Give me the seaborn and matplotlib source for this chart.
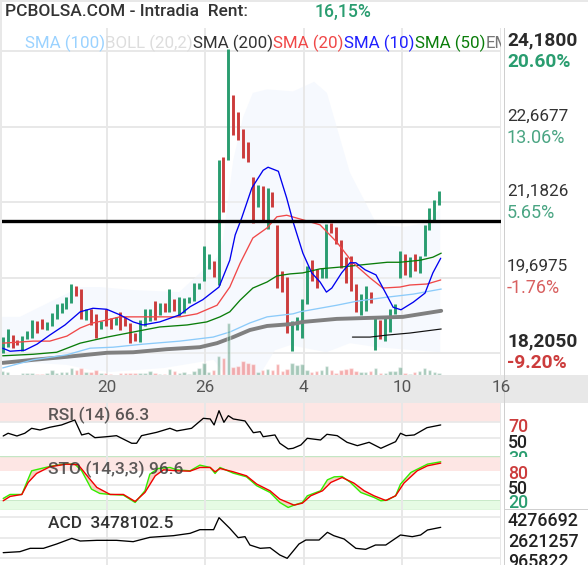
import numpy as np
import matplotlib
matplotlib.use('Agg')
import matplotlib.pyplot as plt
from matplotlib.patches import Rectangle
from matplotlib.transforms import Bbox
import seaborn as sns

W, H = 588, 565

# candles, index 0..89
high = [18.52,18.68,18.56,18.46,18.54,18.64,18.86,18.84,18.88,18.82,19.00,19.17,19.19,19.31,19.57,
        19.53,19.47,19.08,19.08,18.98,18.84,19.08,18.90,18.92,19.02,18.92,18.80,18.60,18.86,19.08,
        19.08,19.23,19.19,19.19,19.47,19.27,19.31,19.29,19.31,19.59,19.59,20.32,20.16,20.02,22.02,
        22.08,24.22,23.31,22.97,22.64,22.38,21.69,21.53,21.51,21.47,21.39,20.74,19.83,19.71,18.84,
        18.92,19.27,19.93,20.05,19.87,19.89,20.76,20.78,20.70,20.44,20.10,20.12,19.57,19.37,19.53,
        19.41,18.94,18.86,18.90,19.08,19.17,20.22,20.16,20.10,20.16,20.12,20.74,21.07,21.23,21.41]
low = [18.20,18.32,18.30,18.36,18.24,18.48,18.50,18.60,18.68,18.66,18.74,18.88,19.00,19.08,19.19,
       19.33,18.88,18.86,18.76,18.50,18.68,18.74,18.68,18.76,18.66,18.74,18.40,18.44,18.42,18.74,
       18.84,18.86,18.96,19.02,19.02,19.04,18.94,19.00,19.19,19.23,19.47,19.63,19.87,19.71,19.55,
       20.99,22.02,22.52,22.42,22.06,21.98,20.78,21.09,20.80,20.66,21.09,19.49,19.41,18.60,18.24,
       18.66,18.50,19.17,19.63,19.49,19.69,19.69,20.58,20.36,19.89,19.59,19.43,19.02,18.96,19.04,
       19.19,18.26,18.48,18.44,18.62,18.98,19.69,19.75,19.71,19.83,19.79,20.12,20.64,20.84,21.13]
up = [1,1,0,0,1,1,1,0,0,1,1,1,1,1,1,0,0,1,0,0,1,0,0,1,0,0,0,0,1,1,
      1,0,1,0,1,0,1,1,1,1,1,1,1,0,1,0,1,0,0,0,0,0,1,0,1,0,0,0,0,1,
      1,1,1,0,0,1,1,0,0,0,0,0,0,1,1,0,1,0,1,1,1,1,0,1,0,1,1,1,1,1]
volume = [4,3,0,0.5,2,2,2,1,1,2,5,2,3,3,7,5,7,3,3,5,2,2,1,0.5,2,2,2,2,2,2,
          4,2,1,1,6,4,2,3,1,4,7,12,3,5,19,17,52,8,9,14,12,11,3,5,6,5,11,4,6,12,
          10,11,5,3,4,5,9,5,2,5,6,7,4,3,3,4,7,2,2,4,4,8,2,1,3,4,7,5,3,2]

sma10_x = [0,1.5,4.5,7,9.6,12.7,15.8,18.4,21.2,23.9,26.6,28.6,32,36.1,38.2,40.8,44.1,46.3,47.4,48.7,50.8,53.1,54.1,56.2,57.9,59.2,61.2,63,64.7,66,67.1,69.1,70.8,72,73.9,76.1,78.3,79.6,81.2,83.7,86.1,87.7,89.3]
sma10_y = [18.30,18.24,18.26,18.38,18.56,18.76,19.02,19.09,19.07,18.96,18.82,18.76,18.82,18.96,19.12,19.26,19.51,20.04,20.54,20.87,21.47,21.82,21.88,21.80,21.27,20.80,20.18,19.79,19.61,19.41,19.49,19.79,19.99,19.99,19.85,19.75,19.35,19.11,19.06,19.21,19.39,19.79,20.08]
sma20_x = [0,6.2,9.6,13.1,15.8,18.4,21.3,23.9,28.6,36.1,39.6,43.7,46.3,48.4,51,53.9,55.9,57.9,61.2,64.7,68.1,71.4,74.9,77.5,81,83,86.5,89.3]
sma20_y = [18.40,18.44,18.44,18.54,18.70,18.80,18.86,18.92,18.92,18.92,18.98,19.15,19.51,19.98,20.48,20.68,20.90,20.93,20.84,20.74,20.40,19.99,19.69,19.49,19.51,19.55,19.57,19.65]
sma50_x = [0,6.2,11,15.8,21.3,26.6,32,37.6,41.6,44.3,46.3,48.4,51,53.9,55.9,58.6,61.2,64.7,69.4,74.3,78.4,81,85.1,87.7,89.4]
sma50_y = [18.15,18.18,18.22,18.40,18.52,18.62,18.72,18.76,18.82,18.92,19.02,19.25,19.49,19.61,19.73,19.77,19.79,19.87,19.91,19.96,20.00,20.00,20.04,20.10,20.18]
sma100_x = [0,6.2,13.1,17.8,22.5,28.6,36.1,42.9,46.3,50.4,53.9,59.2,60.6,68.1,72.2,78.4,83.7,89.4]
sma100_y = [17.91,18.07,18.17,18.30,18.32,18.38,18.44,18.52,18.62,18.80,18.92,18.98,19.02,19.15,19.23,19.31,19.37,19.47]
sma200_x = [0,6.2,13.1,21.3,26.6,33.4,40.2,43.7,47,50.4,53.9,59.2,61.2,68.1,74.9,81.6,89.4]
sma200_y = [18.01,18.07,18.13,18.21,18.22,18.28,18.32,18.40,18.52,18.66,18.74,18.78,18.82,18.88,18.90,18.92,19.04]
ema_x = [71.3,74.9,78.4,83,89.4]
ema_y = [18.52,18.52,18.56,18.60,18.68]

boll_up_x = [-0.5,3.5,15.8,19.8,26.6,36,43.7,44.9,47,49,51,53.9,59.2,63.5,66.1,70.8,73.7,76.3,81.8,86.5,89.2]
boll_up_y = [18.92,18.92,19.51,19.51,19.45,19.41,20.10,20.44,22.02,22.87,23.35,23.42,23.38,23.57,23.35,21.77,21.23,20.74,20.70,20.78,21.07]
boll_lo_x = [-0.5,6.2,13.1,17.8,22,33,43,45.4,52.4,55.5,58.6,66,70.8,76.3,89.2]
boll_lo_y = [17.97,18.01,17.97,17.87,17.83,17.91,18.07,17.77,17.77,18.26,18.36,18.22,18.40,18.32,18.22]

support = 20.816
price_grid = [24.18, 22.6677, 21.1826, 19.6975, 18.205]
day_pos = [21.2, 41.3, 61.4, 81.4, 101.56]
day_labels = ['20', '26', '4', '10', '16']

rsi_x = [0.1,1.1,2.9,4.5,5.9,7.6,9.6,12,14.7,16.1,17.5,18.8,21.2,23.2,26.3,27.3,28.3,31.4,34.1,35.5,38.5,40.9,42.3,43.1,44.1,45.1,46,47,49.4,51.1,52.5,53.1,55.5,56.5,58.2,59.2,60.8,62.1,64.8,66.1,68.2,70.2,72.3,74.7,77.1,80.1,81.1,82.2,83.9,86.5,89.3]
rsi_y = [52.5,55.9,52.5,55.9,62.1,60,63.4,66.3,72.5,53.8,55.9,50.4,51.6,52.9,43.4,43.4,52.9,57.1,62.1,58.8,62.1,74.6,73.8,66.3,84.1,69.6,77.9,73.8,71.3,56.6,57.9,51.6,53.8,43.4,36.3,37.1,41.3,49.6,47.5,54.6,52.9,44.6,40.4,44.6,37.1,45.4,55.9,52.9,53.8,62.9,66.3]

sto_d_x = [0.1,1.5,3.9,5.2,6.9,9.6,13,15.4,17.5,19.2,21.9,24.6,27,29,31.1,32.8,35.5,38.2,40.2,42.3,43.3,44.3,47,49.7,51.8,54.5,56.5,59.4,61.1,62.8,65.2,66.9,69.2,71.6,73.7,75.7,78.1,80.1,81.8,84.5,86.6,89.3]
sto_d_y = [17.9,27,31.2,56.4,75.2,89.2,94.8,93.4,66.8,45.9,31.2,31.2,16.5,35.4,70.3,82.9,80.8,80.1,87.8,87.8,78.7,85.7,78.7,70.3,52.9,38.9,21.4,8.8,13,28.4,38.9,56.4,66.8,55,38.9,28.4,18.6,28.4,55,80.8,91.3,96.9]
sto_k_x = [0.1,1.5,3.9,4.9,5.9,7.3,9.6,12.4,14.7,16.1,18.1,19.8,21.9,24.6,27,29,30,31.7,34.1,35.5,38.2,40.2,42.3,43.3,44.3,47,49.7,51.8,54.5,56.5,58.2,59.4,61.1,62.1,64.8,66.2,67.6,69.2,70.9,73,75.7,77.1,78.4,80.1,81.1,83.2,86.6,89.3]
sto_k_y = [22.8,31.2,31.2,56.4,80.8,84.3,89.9,94.8,94.8,80.8,42.4,33.3,31.2,29.8,14.4,38.9,73.8,85.7,87.8,82.9,80.8,92.7,87.8,75.2,87.8,75.9,68.2,49.4,35.4,14.4,3.9,8.8,14.4,28.4,38.9,61.9,68.2,68.9,56.4,35.4,24.9,17.9,19.3,28.4,52.9,77.3,94.8,99.7]

acd_x = [0.1,3.5,5.6,8.3,11,14.1,15.8,19.2,23.2,26.6,30,34.8,38.2,40.2,43,44.1,46.3,48,49.4,50.4,52.5,54.5,56.5,58,59.4,60.4,61.8,64.5,66.2,67.5,69.6,72,74,76,78.1,81.1,83.5,85.2,86.6,89.3]
acd_y = [1.413,1.493,1.763,1.763,2.112,2.570,2.354,2.408,2.408,2.301,2.650,2.785,2.974,3.270,3.270,4.239,3.377,2.624,2.704,2.031,1.763,1.816,1.224,0.955,1.628,2.112,2.435,2.435,3.055,2.785,2.516,1.763,1.682,2.031,2.031,2.839,2.704,2.839,3.243,3.458]
acd_grid = [4.276692, 2.621257, 0.965822]

sns.set_theme(style='white')
plt.rcParams['font.family'] = ['Roboto', 'DejaVu Sans']

GRID = '#e8e8e8'
GREEN = '#2a9d70'
RED = '#cc3c3c'
XMIN, XMAX = -0.55, 101.59

fig = plt.figure(figsize=(W / 100, H / 100), dpi=100, facecolor='white')


def panel(x0, y0, x1, y1):
    # axes placed in picture pixels, y counted from the top
    a = fig.add_axes([x0 / W, 1 - y1 / H, (x1 - x0) / W, (y1 - y0) / H])
    a.set_xlim(XMIN, XMAX)
    for s in a.spines.values():
        s.set_visible(False)
    a.set_xticks([])
    a.set_yticks([])
    a.set_xlabel('')
    a.set_ylabel('')
    return a


def label(x, y, s, clip=None, **kw):
    t = fig.text(x / W, 1 - y / H, s, va='center', **kw)
    if clip is not None:
        t.set_clip_box(Bbox.from_extents(clip[0], H - clip[3], clip[2], H - clip[1]))
        t.set_clip_on(True)
    return t


def line(a, xs, ys, color, width, z=3):
    sns.lineplot(x=xs, y=ys, ax=a, color=color, linewidth=width, estimator=None, sort=False,
                 legend=False, zorder=z)
    a.set_xlabel('')
    a.set_ylabel('')


def vgrid(a):
    for p in day_pos:
        a.axvline(p, color=GRID, lw=1.4, zorder=1.5)


# main price panel
ax = panel(0, 28, 501, 375)
ax.set_ylim(17.77, 24.634)
for p in price_grid:
    ax.axhline(p, color=GRID, lw=1.4, zorder=0.5)
vgrid(ax)
ax.fill(boll_up_x + boll_lo_x[::-1], boll_up_y + boll_lo_y[::-1], color='#f6f9fe', lw=0, zorder=1)
for p in price_grid:
    ax.axhline(p, color=GRID, lw=1.4, alpha=0.7, zorder=1.2)

idx = np.arange(len(high))
candle_colors = [GREEN if u else RED for u in up]
ax.vlines(idx, low, high, colors=candle_colors, lw=2.1, zorder=2)

line(ax, sma200_x, sma200_y, '#808080', 2.8)
line(ax, sma100_x, sma100_y, '#8ccbfa', 0.95)
line(ax, sma50_x, sma50_y, '#0a7d0a', 0.95)
line(ax, sma20_x, sma20_y, '#f04848', 0.95)
line(ax, sma10_x, sma10_y, '#0000f0', 0.95)
line(ax, ema_x, ema_y, '#111111', 0.85)
ax.axhline(support, color='black', lw=2.4, zorder=4)
ax.set_xlim(XMIN, XMAX)
ax.set_ylim(17.77, 24.634)

# volume on its own scale along the bottom of the price panel
vax = panel(0, 28, 501, 375)
vax.patch.set_visible(False)
sns.barplot(x=idx, y=volume, hue=['up' if u else 'down' for u in up],
            palette={'up': '#2a7d5a', 'down': '#e83c3c'}, alpha=0.42, width=0.72, saturation=1,
            native_scale=True, dodge=False, legend=False, ax=vax)
vax.set_xlim(XMIN, XMAX)
vax.set_ylim(0, 347)
vax.set_xticks([])
vax.set_yticks([])
vax.set_xlabel('')
vax.set_ylabel('')

# RSI
rax = panel(0, 403, 501, 455.5)
rax.set_ylim(28.1, 93.75)
rax.axhspan(70, 93.75, color='#fde6e4', lw=0, zorder=1)
for v in [70, 50]:
    rax.axhline(v, color=GRID, lw=1.2, zorder=1.2)
vgrid(rax)
line(rax, rsi_x, rsi_y, 'black', 0.95)
rax.set_xlim(XMIN, XMAX)
rax.set_ylim(28.1, 93.75)

# stochastic
sax = panel(0, 455.5, 501, 510)
sax.set_ylim(-1.4, 112.9)
sax.axhspan(80, 110, color='#fde6e4', lw=0, zorder=1)
sax.axhspan(-1, 20, color='#e6fbe4', lw=0, zorder=1)
sax.axhline(50, color=GRID, lw=1.2, zorder=1.2)
sax.axhline(112.3, color='#c4e6c4', lw=1.0, zorder=1.2)
sax.axhline(-1, color='#c4e6c4', lw=1.0, zorder=1.2)
sax.axhline(20, color='#c4e6c4', lw=0.6, zorder=1.2)
vgrid(sax)
sax.fill(sto_k_x + sto_d_x[::-1], sto_k_y + sto_d_y[::-1], color='#f6d2c4', lw=0, zorder=2)
line(sax, sto_k_x, sto_k_y, '#33ee00', 1.0)
line(sax, sto_d_x, sto_d_y, '#f00000', 1.0, z=4)
sax.set_xlim(XMIN, XMAX)
sax.set_ylim(-1.4, 112.9)

# ACD
dax = panel(0, 510, 501, 565)
dax.set_ylim(0.4168, 4.858)
for v in acd_grid:
    dax.axhline(v, color=GRID, lw=1.2, zorder=1.2)
vgrid(dax)
line(dax, acd_x, acd_y, 'black', 0.95)
dax.set_xlim(XMIN, XMAX)
dax.set_ylim(0.4168, 4.858)

# frame bands and separators
band = dict(transform=fig.transFigure, color=GRID, lw=0, zorder=5)
fig.add_artist(Rectangle((0, 1 - 2 / H), 1, 2 / H, **band))
fig.add_artist(Rectangle((0, 1 - 375 / H), 2 / W, 375 / H, **band))
fig.add_artist(Rectangle((0, 1 - 403 / H), 1, 28 / H, **band))
fig.add_artist(Rectangle((503.5 / W, 0), 1.6 / W, 1 - 28 / H, transform=fig.transFigure,
                         color='#cfcfcf', lw=0, zorder=5))
fig.add_artist(Rectangle((504 / W, 1 - 510 / H), 84 / W, 1 / H, transform=fig.transFigure,
                         color='#cfcfcf', lw=0, zorder=5))

# header
label(5, 12, 'PCBOLSA.COM - Intradia  Rent:', fontsize=12.5, weight=500, color='#333333', zorder=6)
label(315, 12, '16,15%', fontsize=12.7, weight=500, color=GREEN, zorder=6)

# indicator names over the price panel
for x, s, c in [(25, 'SMA (100)', '#9ad2ff'), (105, 'BOLL (20,2)', '#dddddd'), (193, 'SMA (200)', '#333333'),
                (273, 'SMA (20)', '#f04848'), (344, 'SMA (10)', '#2020ff'), (415, 'SMA (50)', '#0a7d0a'),
                (486, 'EM', '#777777')]:
    label(x, 43, s, fontsize=12.2, color=c, zorder=6, clip=(0, 28, 501, 60))

# price scale
for y, s, c, w, fs in [(40, '24,1800', '#2a2a2a', 'bold', 13.8), (62, '20.60%', GREEN, 'bold', 13.8),
                       (116, '22,6677', '#333333', 'normal', 12.3), (138, '13.06%', '#4aa583', 'normal', 13),
                       (191, '21,1826', '#333333', 'normal', 12.3), (213, '5.65%', '#4aa583', 'normal', 13),
                       (266, '19,6975', '#333333', 'normal', 12.3), (288, '-1.76%', '#d86060', 'normal', 13),
                       (341, '18,2050', '#2a2a2a', 'bold', 13.8), (363, '-9.20%', RED, 'bold', 13.8)]:
    label(507, y, s, fontsize=fs, color=c, weight=w, zorder=6)

# day labels on the band
for p, s in zip(day_pos, day_labels):
    label(2.7 + 4.905 * p, 388, s, fontsize=12.3, color='#555555', ha='center', zorder=6)

# lower panel names
label(48, 415, 'RSI (14) 66.3', fontsize=12.5, weight=500, color='#333333', alpha=0.8, zorder=6)
label(48, 469, 'STO (14,3,3) 96.6', fontsize=12.5, weight=500, color='#333333', alpha=0.8, zorder=6)
label(48, 523, 'ACD  3478102.5', fontsize=12.4, weight=500, color='#333333', zorder=6)

# lower panel scales
for y, s, c in [(427, '70', RED), (443, '50', '#222222')]:
    label(508, y, s, fontsize=12.8, weight=500, color=c, zorder=6)
label(508, 459, '30', fontsize=12.8, weight=500, color=GREEN, zorder=6, clip=(504, 403, 588, 456.5))
for y, s, c in [(474, '80', RED), (489, '50', '#222222'), (503, '20', GREEN)]:
    label(508, y, s, fontsize=12.8, weight=500, color=c, zorder=6)
for y, s in [(521, '4276692'), (542, '2621257'), (562, '965822')]:
    label(508, y, s, fontsize=12.8, weight=500, color='#222222', zorder=6)

fig.savefig('out.png', dpi=100)
